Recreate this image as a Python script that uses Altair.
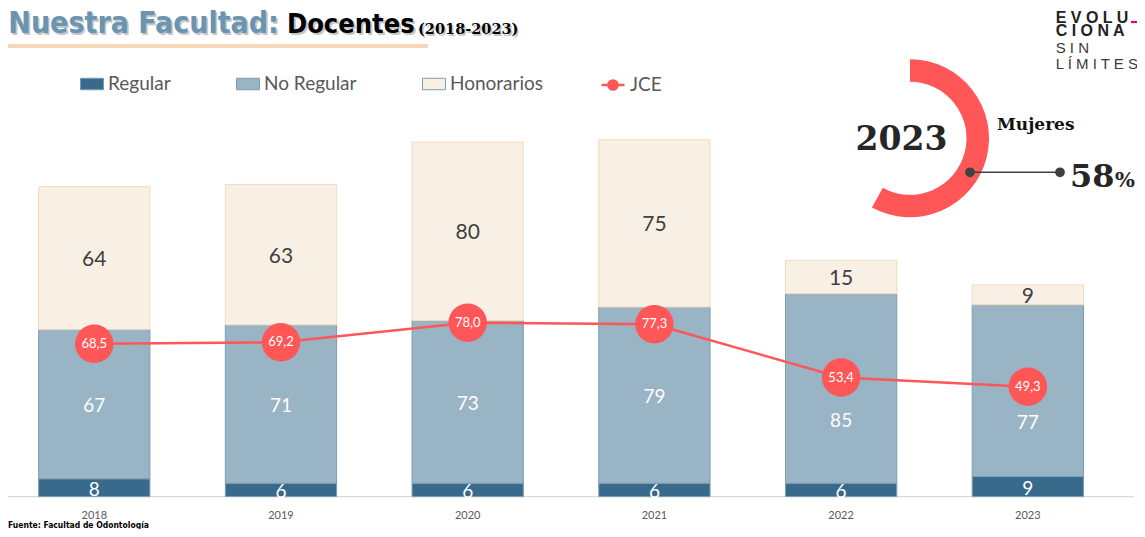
import altair as alt
import pandas as pd

# ---------------- data ----------------
anios = ["2018", "2019", "2020", "2021", "2022", "2023"]
regular = [8, 6, 6, 6, 6, 9]
no_regular = [67, 71, 73, 79, 85, 77]
honorarios = [64, 63, 80, 75, 15, 9]
jce = [68.5, 69.2, 78.0, 77.3, 53.4, 49.3]
series = ["Regular", "No Regular", "Honorarios"]
mujeres_pct = 58
anio_donut = "2023"

# ---------------- styles ----------------
colores = ["#386B8B", "#98B4C5", "#F9F0E5"]
RED = "#FF5757"
FONT = "Lato"
NARROW = "'Liberation Sans Narrow', 'DejaVu Sans Condensed', 'Liberation Sans', sans-serif"
SERIF = "'DejaVu Serif', 'Liberation Serif', serif"
W, H = 1129, 521

rows = []
for i, a in enumerate(anios):
    for k, (s, vals) in enumerate(zip(series, [regular, no_regular, honorarios])):
        rows.append({"anio": a, "serie": s, "orden": k, "valor": vals[i], "jce": jce[i]})
bars_df = pd.DataFrame(rows)
jce_df = pd.DataFrame({"anio": anios, "jce": jce, "serie": ["JCE"] * len(anios)})
donut_df = pd.DataFrame({"g": ["Mujeres", "Resto"], "v": [mujeres_pct, 100 - mujeres_pct], "o": [0, 1]})
one = pd.DataFrame({"k": [0]})
zero_df = pd.DataFrame({"z": [0]})

x_scale = alt.Scale(domain=anios, range=[0, 1106.1], paddingInner=0.404, paddingOuter=0.164)
y_scale = alt.Scale(domain=[0, 180], range=[488.6, 87.2], nice=False, zero=True)

x_enc = alt.X(
    "anio:N", scale=x_scale,
    axis=alt.Axis(title=None, domain=False, ticks=False, tickSize=0, grid=False, labelAngle=0,
                  labelFont=FONT, labelFontSize=11, labelColor="#595959",
                  labelPadding=12.5, offset=-(H - 488.6)),
)

baseline = alt.Chart(zero_df).mark_rule(color="#D9D9D9", strokeWidth=1.2).encode(
    y=alt.Y("z:Q", scale=y_scale, axis=None), x=alt.value(0), x2=alt.value(1126)
)

bars = alt.Chart(bars_df).mark_bar(strokeWidth=1).encode(
    x=x_enc,
    y=alt.Y("valor:Q", stack="zero", scale=y_scale, axis=None),
    fill=alt.Fill("serie:N", scale=alt.Scale(domain=series, range=colores),
                  legend=alt.Legend(title=None, orient="none", legendX=72, legendY=64,
                                    direction="horizontal", symbolType="M-1,-0.5H1V0.5H-1Z",
                                    symbolSize=529, symbolStrokeWidth=1,
                                    labelFont=FONT, labelFontSize=19, labelColor="#595959",
                                    labelOffset=4, columnPadding=63)),
    stroke=alt.condition(alt.datum.serie == "Honorarios", alt.value("#F5DABB"), alt.value("#7D9DB2")),
    order=alt.Order("orden:Q"),
)

# segment labels at segment centre; moved below the JCE marker when they would sit under it
labels = alt.Chart(bars_df).transform_stack(
    stack="valor", groupby=["anio"], as_=["v0", "v1"], sort=[alt.SortField("orden", order="ascending")]
).transform_calculate(
    mid0="(datum.v0 + datum.v1) / 2"
).transform_calculate(
    mid="abs(datum.mid0 - datum.jce) < 12 ? datum.mid0 - 13.5 : datum.mid0"
).mark_text(font=FONT, baseline="middle", dy=2).encode(
    x=x_enc,
    y=alt.Y("mid:Q", scale=y_scale, axis=None),
    text="valor:Q",
    color=alt.condition(alt.datum.serie == "Honorarios", alt.value("#404040"), alt.value("#FFFFFF")),
    size=alt.condition(alt.datum.serie == "Honorarios", alt.value(21), alt.value(19)),
)

LINE_SYMBOL = "M-1,0H1M0.4,0A0.4,0.4,0,1,1,-0.4,0A0.4,0.4,0,1,1,0.4,0Z"
line = alt.Chart(jce_df).mark_line(strokeWidth=2.5).encode(
    x=x_enc,
    y=alt.Y("jce:Q", scale=y_scale, axis=None),
    stroke=alt.Stroke("serie:N", scale=alt.Scale(domain=["JCE"], range=[RED]),
                      legend=alt.Legend(title=None, orient="none", legendX=592, legendY=64,
                                        symbolType=LINE_SYMBOL, symbolSize=529,
                                        symbolFillColor=RED, symbolStrokeWidth=2.5,
                                        labelFont=FONT, labelFontSize=19, labelColor="#595959",
                                        labelOffset=4)),
)

dots = alt.Chart(jce_df).mark_circle(size=1480, color=RED, opacity=1).encode(
    x=x_enc, y=alt.Y("jce:Q", scale=y_scale, axis=None)
)

jce_text = alt.Chart(jce_df).transform_calculate(
    lbl="replace(format(datum.jce, '.1f'), '.', ',')"
).mark_text(font=FONT, fontSize=13, color="#FFFFFF", baseline="middle").encode(
    x=x_enc, y=alt.Y("jce:Q", scale=y_scale, axis=None), text="lbl:N"
)


def txt(s, x, y, size, color, font, weight="normal", align="left", baseline="alphabetic", opacity=1):
    return alt.Chart(one).mark_text(
        text=s, fontSize=size, color=color, font=font, fontWeight=weight,
        align=align, baseline=baseline, opacity=opacity
    ).encode(x=alt.value(x), y=alt.value(y))


# title
title_layers = [
    txt("Nuestra Facultad:", 2, 27, 30, "#B8B8B8", NARROW, "bold", opacity=0.8),
    txt("Nuestra Facultad:", 0.3, 24.7, 30, "#6A94AF", NARROW, "bold"),
    txt("Docentes", 281, 27, 27, "#B8B8B8", NARROW, "bold", opacity=0.8),
    txt("Docentes", 279, 24.7, 27, "#000000", NARROW, "bold"),
    txt("(2018-2023)", 411.5, 28, 14.5, "#B8B8B8", SERIF, "bold", opacity=0.8),
    txt("(2018-2023)", 410, 26.3, 14.5, "#000000", SERIF, "bold"),
]
underline = alt.Chart(one).mark_rule(color="#F6D8B8", strokeWidth=4).encode(
    x=alt.value(0), x2=alt.value(420), y=alt.value(38)
)

# logo
LOGO = "'Liberation Sans', Arial, sans-serif"
logo_layers = [
    txt("E V O L U", 1047.7, 14.7, 16, "#222222", LOGO, "bold"),
    txt("C I O N A", 1047.7, 28, 16, "#222222", LOGO, "bold"),
    txt("S I N", 1047.7, 44.7, 15, "#3A3A3A", LOGO, "normal"),
    txt("L Í M I T E S", 1047.7, 61.3, 15, "#3A3A3A", LOGO, "normal"),
]
dash = alt.Chart(one).mark_rule(color="#E6007E", strokeWidth=2.2).encode(
    x=alt.value(1123), x2=alt.value(1132), y=alt.value(14)
)

# donut
arc = alt.Chart(donut_df).mark_arc(innerRadius=56.5, outerRadius=79).encode(
    theta=alt.Theta("v:Q", stack=True),
    order=alt.Order("o:Q"),
    fill=alt.condition(alt.datum.g == "Mujeres", alt.value(RED), alt.value("transparent")),
    x=alt.value(902), y=alt.value(130.3),
)
connector = alt.Chart(one).mark_rule(color="#404040", strokeWidth=1.5).encode(
    x=alt.value(962), x2=alt.value(1052), y=alt.value(164.3)
)
dot1 = alt.Chart(one).mark_point(filled=True, size=95, color="#404040", opacity=1).encode(
    x=alt.value(962), y=alt.value(164.3))
dot2 = alt.Chart(one).mark_point(filled=True, size=95, color="#404040", opacity=1).encode(
    x=alt.value(1052), y=alt.value(164.3))
donut_text = [
    txt(anio_donut, 893.5, 131.5, 33, "#262626", SERIF, "bold", align="center", baseline="middle"),
    txt("Mujeres", 989, 122, 17, "#111111", SERIF, "bold"),
    txt(f"{mujeres_pct}", 1062, 178.7, 32, "#262626", SERIF, "bold"),
    txt("%", 1107, 178.7, 21, "#262626", SERIF, "bold"),
]

footer = txt("Fuente: Facultad de Odontología", 0, 520, 8.5, "#000000", NARROW, "bold")

chart = alt.layer(
    baseline, bars, labels, line, dots, jce_text,
    *title_layers, underline, *logo_layers, dash,
    arc, connector, dot1, dot2, *donut_text, footer,
).properties(
    width=W, height=H, padding=0, autosize=alt.AutoSizeParams(type="none")
).configure_view(stroke=None)

chart.save("out.html", embed_options={"renderer": "svg", "actions": False})
